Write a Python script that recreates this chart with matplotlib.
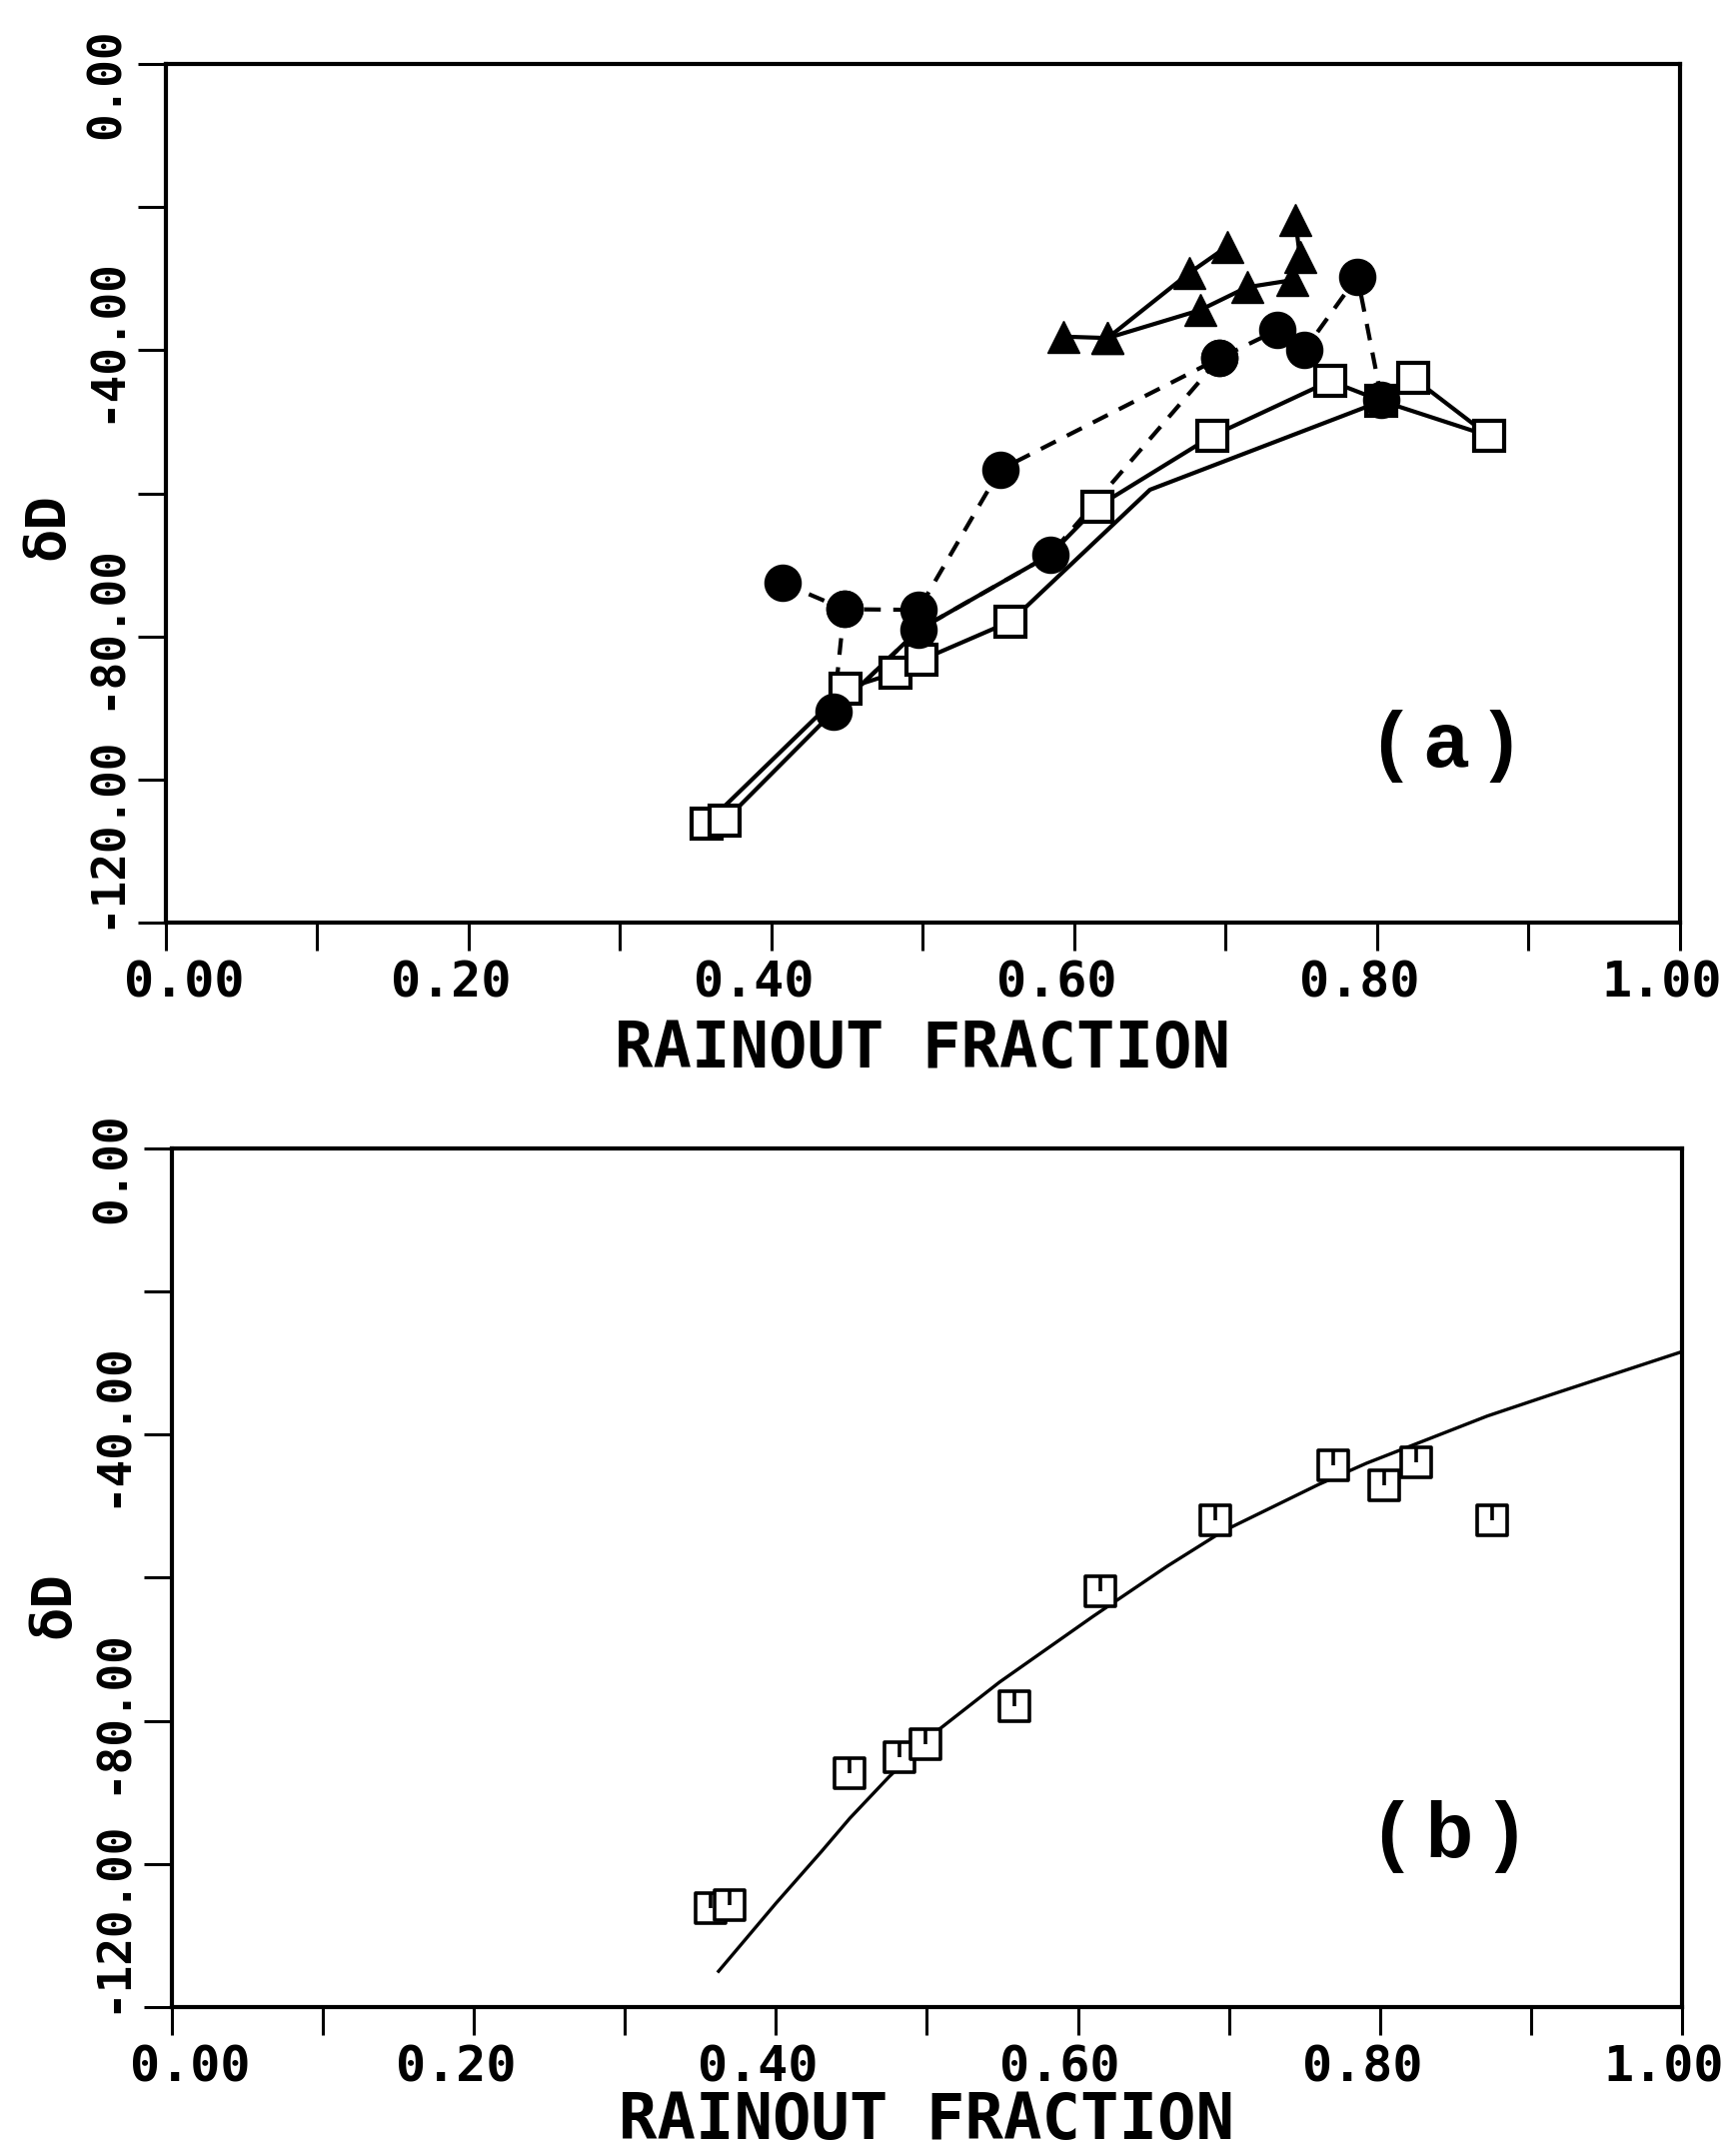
import numpy as np
import matplotlib
matplotlib.use('Agg')
import matplotlib.pyplot as plt
from matplotlib.path import Path
from matplotlib.transforms import ScaledTranslation

# open squares (same points in both panels)
sq_x = [0.357, 0.369, 0.449, 0.482, 0.499, 0.558, 0.615, 0.691, 0.769, 0.803, 0.824, 0.874]
sq_y = [-106.2, -105.8, -87.3, -85.1, -83.3, -77.9, -61.9, -52.0, -44.3, -47.1, -43.9, -52.0]

# solid runs in panel (a)
run1_x = [0.357, 0.449, 0.482, 0.499, 0.558, 0.650, 0.803, 0.874]
run1_y = [-106.2, -87.3, -85.1, -83.3, -77.9, -59.5, -47.1, -52.0]
run2_x = [0.369, 0.441, 0.497, 0.584, 0.615, 0.691, 0.769, 0.803, 0.824, 0.874]
run2_y = [-105.8, -90.5, -79.1, -68.6, -61.9, -52.0, -44.3, -47.1, -43.9, -52.0]

# filled circles, dashed runs
dash1_x = [0.407, 0.448, 0.497, 0.551, 0.696, 0.734, 0.752, 0.787, 0.803]
dash1_y = [-72.5, -76.2, -76.3, -56.7, -41.1, -37.2, -40.0, -29.7, -46.9]
dash2_x = [0.448, 0.441, 0.497, 0.584, 0.696]
dash2_y = [-76.2, -90.5, -79.1, -68.6, -41.1]

# filled triangles
triA_x = [0.593, 0.622, 0.676, 0.701]
triA_y = [-38.1, -38.3, -29.2, -25.5]
triB_x = [0.622, 0.683, 0.714, 0.744, 0.749, 0.746]
triB_y = [-38.3, -34.4, -31.2, -30.2, -26.9, -21.8]

# fitted curve in panel (b)
fit_x = [0.362, 0.400, 0.430, 0.449, 0.475, 0.508, 0.548, 0.610, 0.659, 0.696, 0.759, 0.791, 0.871, 0.912, 1.000]
fit_y = [-115.0, -105.5, -98.3, -93.6, -87.8, -81.2, -74.6, -65.4, -58.4, -53.5, -47.0, -44.0, -37.4, -34.5, -28.4]

xtick_vals = [0.0, 0.1, 0.2, 0.3, 0.4, 0.5, 0.6, 0.7, 0.8, 0.9, 1.0]
xtick_labels = ['0.00', '', '0.20', '', '0.40', '', '0.60', '', '0.80', '', '1.00']
ytick_vals = [-120, -100, -80, -60, -40, -20, 0]
ytick_labels = ['-120.00', '', '-80.00', '', '-40.00', '', '0.00']

MONO = 'DejaVu Sans Mono'


def shift(fig, lab, dx_px, dy_px):
    off = ScaledTranslation(dx_px / fig.dpi, dy_px / fig.dpi, fig.dpi_scale_trans)
    lab.set_transform(lab.get_transform() + off)


def style_axes(fig, ax, ylab_y, xlab_y):
    ax.set_xlim(0, 1)
    ax.set_ylim(-120, 0)
    for s in ax.spines.values():
        s.set_linewidth(3)
    ax.set_xticks(xtick_vals, xtick_labels, fontsize=36, family=MONO, fontweight='bold')
    ax.set_yticks(ytick_vals, ytick_labels, fontsize=33, family=MONO, fontweight='bold',
                  rotation=90, va='center')
    ax.tick_params(direction='out', length=20, width=2.2, pad=6)
    # nudge tick labels the way the plotter placed them
    for i, lab in enumerate(ax.get_xticklabels()):
        shift(fig, lab, 18 if i == 0 else -18, 0)
    ylabs = ax.get_yticklabels()
    ylabs[0].set_va('bottom')
    shift(fig, ylabs[0], 0, -6)
    shift(fig, ylabs[2], 0, 10)
    shift(fig, ylabs[4], 0, 10)
    shift(fig, ylabs[6], 0, -20)
    ax.set_xlabel('RAINOUT FRACTION', fontsize=46, family=MONO, fontweight='bold',
                  va='baseline')
    ax.xaxis.set_label_coords(0.5, xlab_y)
    ax.set_ylabel('δD', fontsize=40, family=MONO, fontweight='bold', va='center')
    ax.yaxis.set_label_coords(-0.078, ylab_y)


fig = plt.figure(figsize=(17.32, 21.57), dpi=100)
ax1 = fig.add_axes([0.0958, 0.5721, 0.8747, 0.3982])
ax2 = fig.add_axes([0.0993, 0.0691, 0.8724, 0.3982])

# ---- panel (a) ----
ax1.plot(run1_x, run1_y, color='black', lw=3, zorder=2)
ax1.plot(run2_x, run2_y, color='black', lw=3, zorder=2)
ax1.plot(dash1_x, dash1_y, color='black', lw=3, ls=(0, (4, 3)), zorder=2)
ax1.plot(dash2_x, dash2_y, color='black', lw=3, ls=(0, (4, 3)), zorder=2)
ax1.plot(triA_x, triA_y, color='black', lw=3, marker='^', ms=23, zorder=4)
ax1.plot(triB_x, triB_y, color='black', lw=3, marker='^', ms=23, zorder=4)
ax1.plot(sq_x, sq_y, ls='none', marker='s', ms=21, mfc='white', mec='black', mew=3, zorder=3)
ax1.plot(dash1_x, dash1_y, ls='none', marker='o', ms=26, color='black', zorder=4)
ax1.plot(dash2_x, dash2_y, ls='none', marker='o', ms=26, color='black', zorder=4)
style_axes(fig, ax1, 0.462, -0.1688)
ax1.text(0.846, 0.206, '( a )', transform=ax1.transAxes, fontsize=56,
         family='Liberation Sans', fontweight='bold', ha='center', va='center')

# ---- panel (b) ----
sq_mark = Path([(-1, -1), (1, -1), (1, 1), (-1, 1), (-1, -1), (0, 1), (0, 0)],
               [Path.MOVETO, Path.LINETO, Path.LINETO, Path.LINETO, Path.CLOSEPOLY,
                Path.MOVETO, Path.LINETO])
ax2.plot(fit_x, fit_y, color='black', lw=2.4, zorder=2)
ax2.plot(sq_x, sq_y, ls='none', marker=sq_mark, ms=21, mfc='white', mec='black',
         mew=2.6, zorder=3)
style_axes(fig, ax2, 0.468, -0.1537)
ax2.text(0.846, 0.199, '( b )', transform=ax2.transAxes, fontsize=56,
         family='Liberation Sans', fontweight='bold', ha='center', va='center')

fig.savefig('out.png', dpi=100, facecolor='white')
